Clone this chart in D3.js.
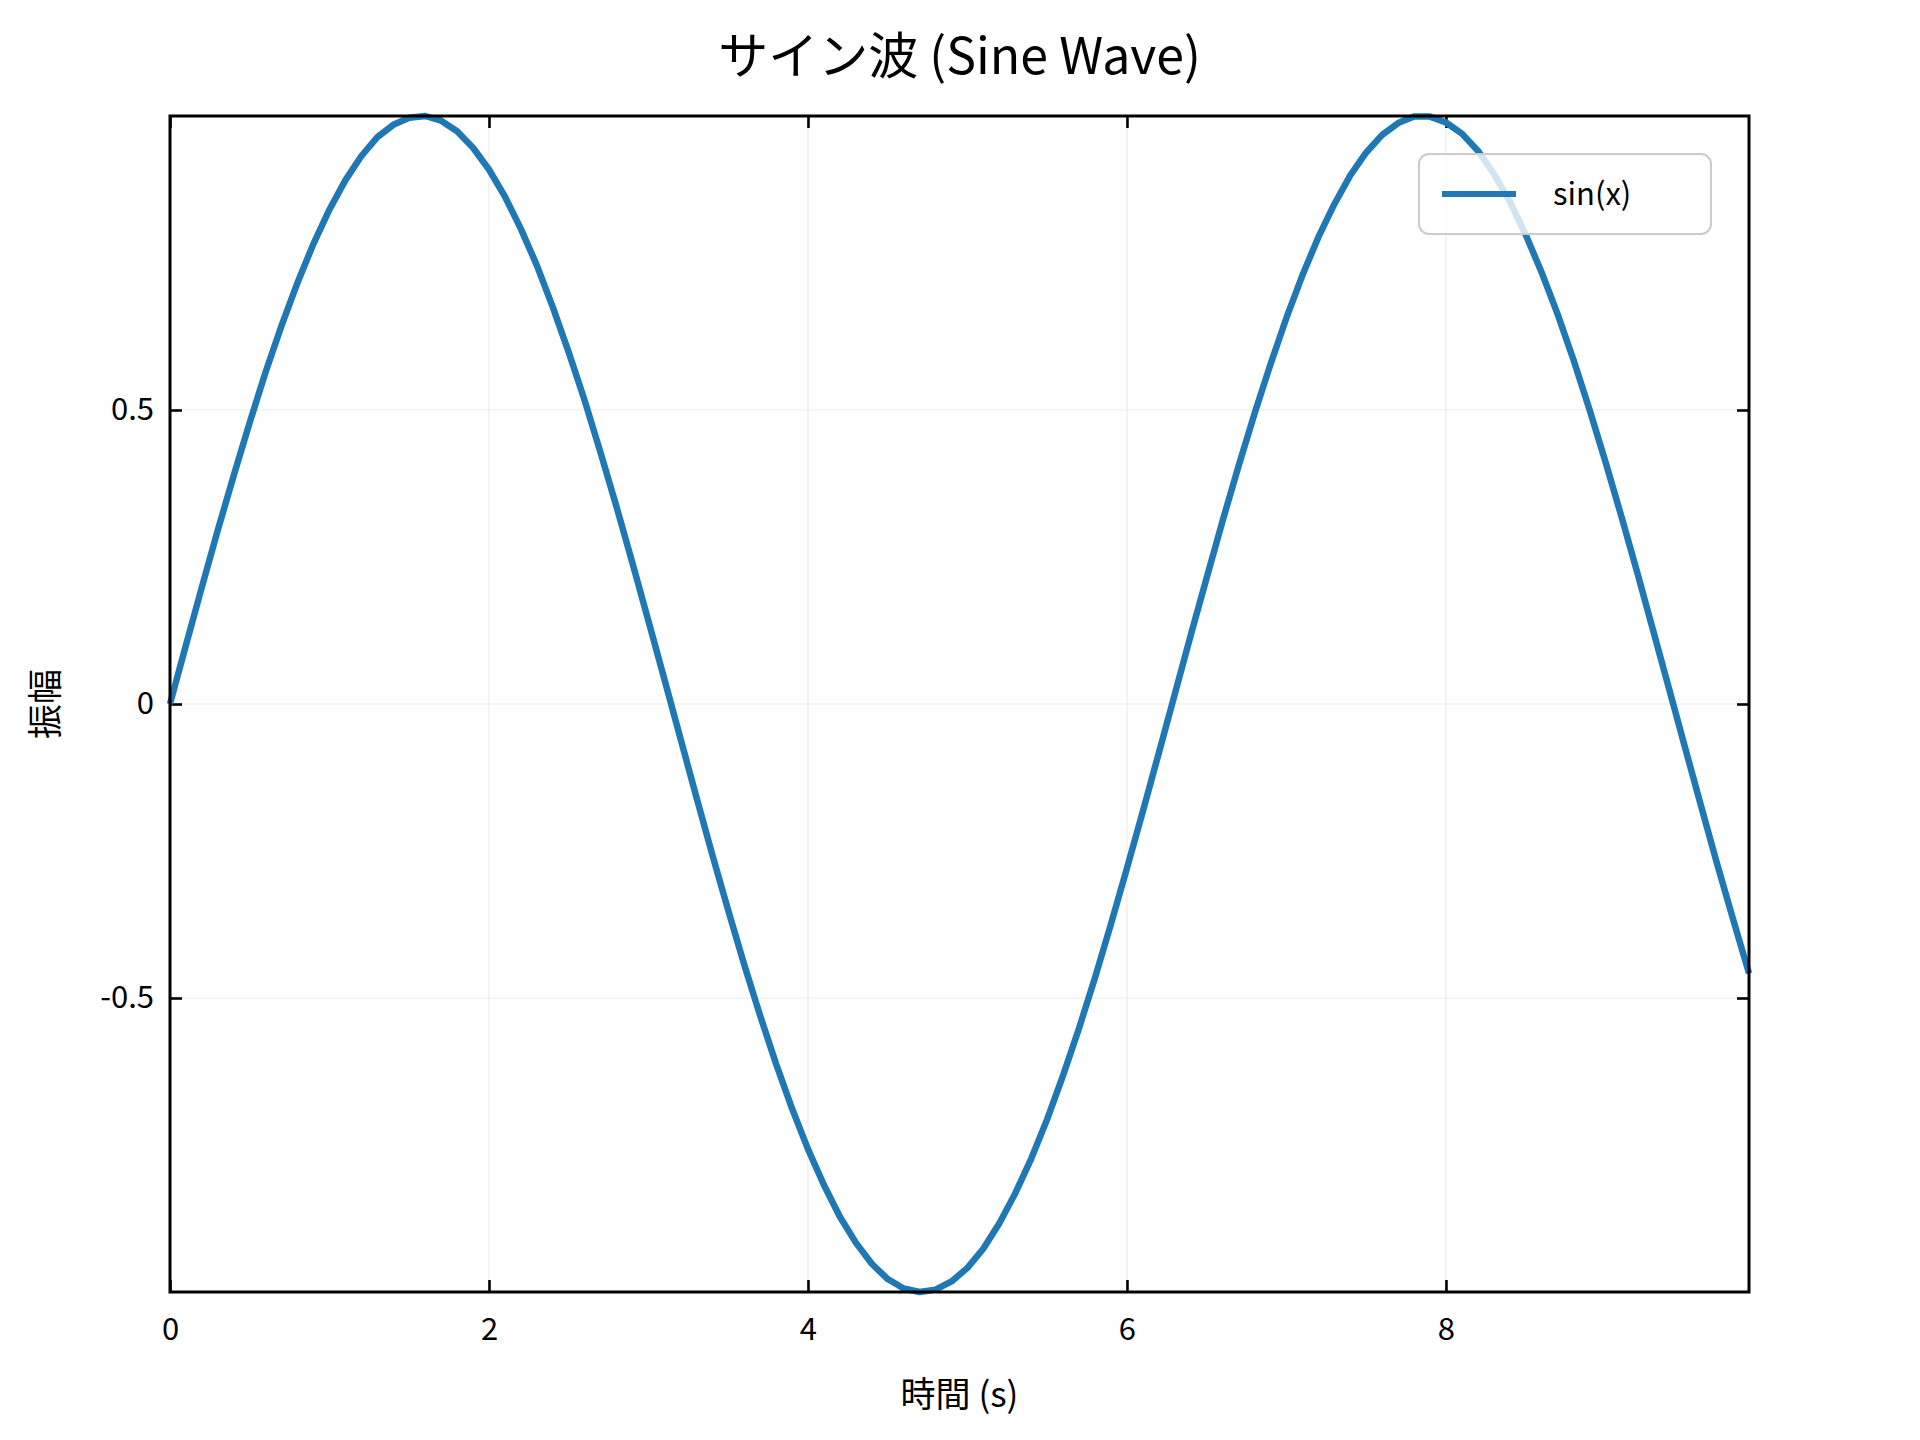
<!DOCTYPE html>
<html>
<head>
<meta charset="utf-8">
<script src="https://cdn.jsdelivr.net/npm/d3@7"></script>
<style>
  body { margin: 0; background: #fff; }
  text { font-family: "Noto Sans CJK JP", "Noto Sans", sans-serif; }
</style>
</head>
<body>
<div id="chart"></div>
<script>
// chart data
const xValues = d3.range(0, 100).map(i => i / 10); // 0.0 .. 9.9, step 0.1
const yValues = [
  0.000, 0.100, 0.199, 0.296, 0.389, 0.479, 0.565, 0.644, 0.717, 0.783,
  0.841, 0.891, 0.932, 0.964, 0.985, 0.997, 1.000, 0.992, 0.974, 0.946,
  0.909, 0.863, 0.808, 0.746, 0.675, 0.598, 0.516, 0.427, 0.335, 0.239,
  0.141, 0.042, -0.058, -0.158, -0.256, -0.351, -0.443, -0.530, -0.612, -0.688,
  -0.757, -0.818, -0.872, -0.916, -0.952, -0.978, -0.994, -1.000, -0.996, -0.982,
  -0.959, -0.926, -0.883, -0.832, -0.773, -0.706, -0.631, -0.551, -0.465, -0.374,
  -0.279, -0.182, -0.083, 0.017, 0.117, 0.215, 0.312, 0.405, 0.494, 0.578,
  0.657, 0.729, 0.794, 0.850, 0.899, 0.938, 0.968, 0.988, 0.999, 0.999,
  0.989, 0.970, 0.941, 0.902, 0.855, 0.798, 0.734, 0.663, 0.585, 0.501,
  0.412, 0.319, 0.223, 0.124, 0.025, -0.075, -0.174, -0.272, -0.366, -0.458
];
const xTicks = [0, 2, 4, 6, 8];
const yTicks = [-0.5, 0, 0.5];
const seriesName = "sin(x)";

const width = 1920, height = 1440;
const margin = { top: 116, right: 171, bottom: 148, left: 170 };
const iw = width - margin.left - margin.right;
const ih = height - margin.top - margin.bottom;

const svg = d3.select("#chart").append("svg")
  .attr("width", width).attr("height", height);

const x = d3.scaleLinear().domain([0, 9.9]).range([0, iw]);
const y = d3.scaleLinear().domain([-1, 1]).range([ih, 0]);

const g = svg.append("g").attr("transform", `translate(${margin.left},${margin.top})`);

// grid
g.selectAll(".gx").data(xTicks).join("line")
  .attr("x1", d => x(d)).attr("x2", d => x(d)).attr("y1", 0).attr("y2", ih)
  .attr("stroke", "#000").attr("stroke-opacity", 0.08).attr("stroke-width", 1.2);
g.selectAll(".gy").data(yTicks).join("line")
  .attr("y1", d => y(d)).attr("y2", d => y(d)).attr("x1", 0).attr("x2", iw)
  .attr("stroke", "#000").attr("stroke-opacity", 0.08).attr("stroke-width", 1.2);

// axes, ticks inside on all sides
const fmt = d => d === 0 ? "0" : String(d).replace("\u2212", "-");
function styleAxis(sel) {
  sel.select(".domain").remove();
  sel.selectAll("line").attr("stroke", "#000").attr("stroke-width", 2.6);
  sel.selectAll("text").attr("font-size", 31).attr("fill", "#000");
}
g.append("g").attr("transform", `translate(0,${ih})`)
  .call(d3.axisBottom(x).tickValues(xTicks).tickFormat(fmt).tickSizeInner(-12).tickPadding(26))
  .call(styleAxis);
g.append("g")
  .call(d3.axisTop(x).tickValues(xTicks).tickFormat("").tickSizeInner(-12))
  .call(styleAxis);
g.append("g")
  .call(d3.axisLeft(y).tickValues(yTicks).tickFormat(fmt).tickSizeInner(-12).tickPadding(16))
  .call(styleAxis);
g.append("g").attr("transform", `translate(${iw},0)`)
  .call(d3.axisRight(y).tickValues(yTicks).tickFormat("").tickSizeInner(-12))
  .call(styleAxis);

// line
const data = xValues.map((v, i) => [v, yValues[i]]);
g.append("path").datum(data)
  .attr("fill", "none").attr("stroke", "#1f77b4").attr("stroke-width", 6.5)
  .attr("stroke-linejoin", "round")
  .attr("d", d3.line().x(d => x(d[0])).y(d => y(d[1])));

// frame
g.append("rect").attr("width", iw).attr("height", ih)
  .attr("fill", "none").attr("stroke", "#000").attr("stroke-width", 3);

// legend
const lg = svg.append("g");
lg.append("rect").attr("x", 1419).attr("y", 154).attr("width", 292).attr("height", 80)
  .attr("rx", 10).attr("fill", "#fff").attr("fill-opacity", 0.8)
  .attr("stroke", "#ccc").attr("stroke-width", 2);
lg.append("line").attr("x1", 1442).attr("x2", 1516).attr("y1", 194).attr("y2", 194)
  .attr("stroke", "#1f77b4").attr("stroke-width", 6);
lg.append("text").attr("x", 1553).attr("y", 194).attr("dy", "0.35em")
  .attr("font-size", 31).text(seriesName);

// titles
svg.append("text").attr("x", (margin.left + width - margin.right) / 2).attr("y", 56)
  .attr("dy", "0.35em").attr("text-anchor", "middle").attr("font-size", 50)
  .text("サイン波 (Sine Wave)");
svg.append("text").attr("x", (margin.left + width - margin.right) / 2).attr("y", 1395)
  .attr("dy", "0.35em").attr("text-anchor", "middle").attr("font-size", 35)
  .text("時間 (s)");
svg.append("text")
  .attr("transform", `translate(46,${margin.top + ih / 2}) rotate(-90)`)
  .attr("dy", "0.35em").attr("text-anchor", "middle").attr("font-size", 35)
  .text("振幅");
</script>
</body>
</html>
